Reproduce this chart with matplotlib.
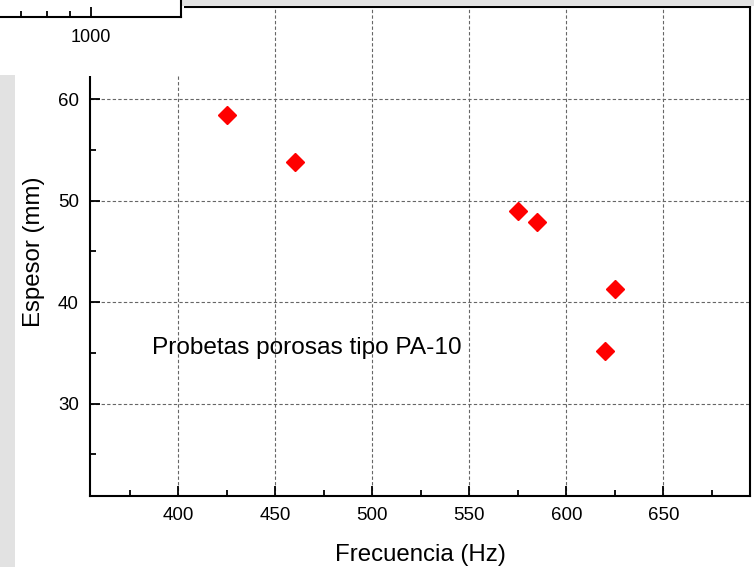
import numpy as np
import matplotlib.pyplot as plt
from matplotlib.patches import Rectangle
from matplotlib.ticker import MultipleLocator, FixedLocator, NullFormatter

plt.rcParams['font.family'] = ['Liberation Sans', 'DejaVu Sans']

# data
frecuencia = [425, 460, 575, 585, 625, 620]
espesor = [58.5, 53.8, 49.0, 47.9, 41.3, 35.2]
xticks = [400, 450, 500, 550, 600, 650]
yticks = [30, 40, 50, 60]
label_text = 'Probetas porosas tipo PA-10'

W, H = 754, 567
fig = plt.figure(figsize=(W / 100, H / 100), dpi=100)

def px(x0, y0, x1, y1):
    # pixel box -> figure fraction [l, b, w, h]
    return [x0 / W, 1 - y1 / H, (x1 - x0) / W, (y1 - y0) / H]

ax = fig.add_axes(px(90, 7, 750, 496))
ax.set_zorder(4)
ax.plot(frecuencia, espesor, linestyle='none', marker='D', ms=9,
        color='red', mec='red')
ax.set_xlim(354.5, 694.6)
ax.set_ylim(20.9, 69.1)
ax.set_xticks(xticks)
ax.set_yticks(yticks)
ax.xaxis.set_minor_locator(MultipleLocator(25))
ax.yaxis.set_minor_locator(MultipleLocator(5))
ax.tick_params(which='both', direction='in', width=1.3, labelsize=13.5,
               top=False, right=False)
ax.tick_params(which='major', length=7, pad=8)
ax.tick_params(which='minor', length=4)
ax.grid(True, which='major', linestyle=(0, (3, 2)), color='#666666',
        linewidth=0.8)
ax.set_axisbelow(True)
for s in ax.spines.values():
    s.set_linewidth(1.5)
ax.set_xlabel('Frecuencia (Hz)', fontsize=17.3, labelpad=14)
ax.set_ylabel('Espesor (mm)', fontsize=17.3, labelpad=9)
ax.text(386.5, 35.5, label_text, fontsize=17.6, va='center', ha='left')

# leftover pieces of the scanned page around the chart
cover = Rectangle((0, 1 - 76 / H), 184 / W, 76 / H, transform=fig.transFigure,
                  facecolor='white', edgecolor='none', zorder=5)
left_strip = Rectangle((0, 0), 15 / W, 1 - 75 / H, transform=fig.transFigure,
                       facecolor='#e2e2e2', edgecolor='none', zorder=5)
top_strip = Rectangle((181 / W, 1 - 6 / H), 1 - 181 / W, 6 / H,
                      transform=fig.transFigure, facecolor='#e2e2e2',
                      edgecolor='none', zorder=5)
fig.patches.extend([cover, left_strip, top_strip])

frag = fig.add_axes(px(-5, -40, 181, 17))
frag.set_zorder(6)
frag.patch.set_alpha(0)
frag.set_xscale('log')
frag.set_xlim(10 ** 2.787, 10 ** 3.2)
frag.set_yticks([])
frag.xaxis.set_major_locator(FixedLocator([1000]))
frag.xaxis.set_minor_locator(FixedLocator([700, 800, 900]))
frag.xaxis.set_minor_formatter(NullFormatter())
frag.set_xticklabels(['1000'])
frag.tick_params(which='both', direction='in', width=1.3, labelsize=13)
frag.tick_params(which='major', length=7, pad=9)
frag.tick_params(which='minor', length=4)
frag.spines['top'].set_visible(False)
frag.spines['left'].set_visible(False)
frag.spines['bottom'].set_linewidth(1.5)
frag.spines['right'].set_linewidth(1.5)

fig.savefig('out.png', dpi=100)
